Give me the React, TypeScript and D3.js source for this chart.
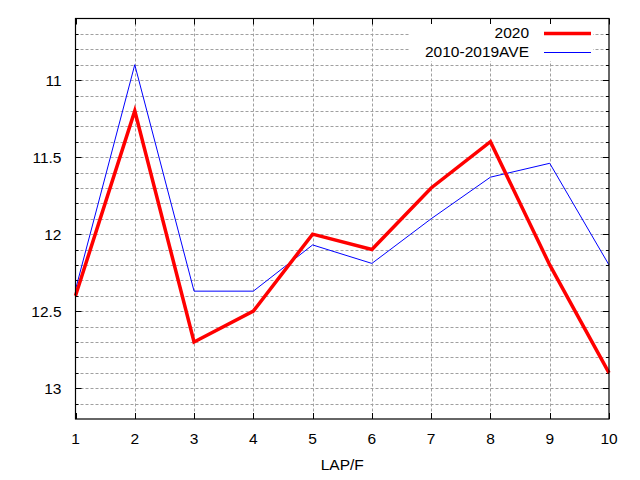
import * as d3 from 'd3'
import React, { useEffect, useRef } from 'react'

// lap number on x, lap time in seconds on y (reversed)
const laps = [1, 2, 3, 4, 5, 6, 7, 8, 9, 10]
const times2020 = [12.4, 11.2, 12.7, 12.5, 12.0, 12.1, 11.7, 11.4, 12.2, 12.9]
const timesAve = [12.36, 10.9, 12.37, 12.37, 12.07, 12.19, 11.9, 11.63, 11.54, 12.2]
const seriesNames = ['2020', '2010-2019AVE']
const yMajorTicks = [11, 11.5, 12, 12.5, 13]
const yMinorTicks = [10.7, 10.8, 10.9, 11, 11.1, 11.2, 11.3, 11.4, 11.5, 11.6, 11.7, 11.8, 11.9, 12, 12.1, 12.2, 12.3, 12.4, 12.5, 12.6, 12.7, 12.8, 12.9, 13, 13.1]
const xLabel = 'LAP/F'

const width = 640
const height = 480
const margin = { left: 75.5, right: 31, top: 18.5, bottom: 61 }

const App = (): JSX.Element => {
    const ref = useRef<SVGSVGElement>(null)

    useEffect(() => {
        const svg = d3.select(ref.current)
        svg.selectAll('*').remove()

        const x = d3.scaleLinear().domain([1, 10]).range([margin.left, width - margin.right])
        const y = d3.scaleLinear().domain([10.6, 13.2]).range([margin.top, height - margin.bottom])
        const [x0, x1] = x.range()
        const [y0, y1] = y.range()
        const font = "'Liberation Sans', Arial, sans-serif"

        svg.append('rect').attr('width', width).attr('height', height).attr('fill', 'white')

        // grid
        const grid = svg.append('g').attr('stroke', '#a0a0a0').attr('stroke-dasharray', '3,2').attr('stroke-width', 1)
        grid.selectAll('line.h')
            .data(yMinorTicks)
            .enter()
            .append('line')
            .attr('x1', x0)
            .attr('x2', x1)
            .attr('y1', (d) => Math.round(y(d)) + 0.5)
            .attr('y2', (d) => Math.round(y(d)) + 0.5)
        grid.selectAll('line.v')
            .data(laps.slice(1, -1))
            .enter()
            .append('line')
            .attr('x1', (d) => Math.round(x(d)) + 0.5)
            .attr('x2', (d) => Math.round(x(d)) + 0.5)
            .attr('y1', y0)
            .attr('y2', y1)

        // ticks (mirrored on right / top)
        const ticks = svg.append('g').attr('stroke', 'black').attr('stroke-width', 1)
        yMinorTicks.forEach((v) => {
            const len = yMajorTicks.includes(v) ? 6 : 3
            const yy = Math.round(y(v)) + 0.5
            ticks.append('line').attr('x1', x0).attr('x2', x0 + len).attr('y1', yy).attr('y2', yy)
            ticks.append('line').attr('x1', x1).attr('x2', x1 - len).attr('y1', yy).attr('y2', yy)
        })
        laps.forEach((v) => {
            const xx = Math.round(x(v)) + 0.5
            ticks.append('line').attr('x1', xx).attr('x2', xx).attr('y1', y1).attr('y2', y1 - 6)
            ticks.append('line').attr('x1', xx).attr('x2', xx).attr('y1', y0).attr('y2', y0 + 6)
        })

        // tick labels
        svg.append('g')
            .selectAll('text')
            .data(yMajorTicks)
            .enter()
            .append('text')
            .attr('x', x0 - 14)
            .attr('y', (d) => y(d) + 5.5)
            .attr('text-anchor', 'end')
            .style('font-family', font)
            .style('font-size', '15.5px')
            .text((d) => `${d}`)
        svg.append('g')
            .selectAll('text')
            .data(laps)
            .enter()
            .append('text')
            .attr('x', (d) => x(d))
            .attr('y', y1 + 25)
            .attr('text-anchor', 'middle')
            .style('font-family', font)
            .style('font-size', '15.5px')
            .text((d) => `${d}`)
        svg.append('text')
            .attr('x', (x0 + x1) / 2)
            .attr('y', y1 + 51)
            .attr('text-anchor', 'middle')
            .style('font-family', font)
            .style('font-size', '15.5px')
            .text(xLabel)

        // lines
        const line = d3
            .line<number>()
            .x((d, i) => x(laps[i]))
            .y((d) => y(d))
        svg.append('path')
            .datum(timesAve)
            .attr('d', line)
            .attr('fill', 'none')
            .attr('stroke', '#0000ff')
            .attr('stroke-width', 1)
        svg.append('path')
            .datum(times2020)
            .attr('d', line)
            .attr('fill', 'none')
            .attr('stroke', '#ff0000')
            .attr('stroke-width', 3.5)
            .attr('stroke-linejoin', 'miter')

        // border
        svg.append('rect')
            .attr('x', x0)
            .attr('y', y0)
            .attr('width', x1 - x0)
            .attr('height', y1 - y0)
            .attr('fill', 'none')
            .attr('stroke', 'black')
            .attr('stroke-width', 1.2)

        // legend (grid hidden behind key)
        const legend = svg.append('g')
        legend.append('rect')
            .attr('x', 410)
            .attr('y', 24)
            .attr('width', 183)
            .attr('height', 37)
            .attr('fill', 'white')
        const colors = ['#ff0000', '#0000ff']
        const widths = [3.5, 1]
        seriesNames.forEach((name, i) => {
            const ly = 33 + i * 19
            legend.append('text')
                .attr('x', 529)
                .attr('y', ly + 5)
                .attr('text-anchor', 'end')
                .style('font-family', font)
                .style('font-size', '15.5px')
                .text(name)
            legend.append('line')
                .attr('x1', 544)
                .attr('x2', 591)
                .attr('y1', ly + 0.5)
                .attr('y2', ly + 0.5)
                .attr('stroke', colors[i])
                .attr('stroke-width', widths[i])
        })
    }, [])

    return (
        <svg
            ref={ref}
            width={width}
            height={height}
            style={{ position: 'absolute', left: 0, top: 0 }}
        />
    )
}

export default App
